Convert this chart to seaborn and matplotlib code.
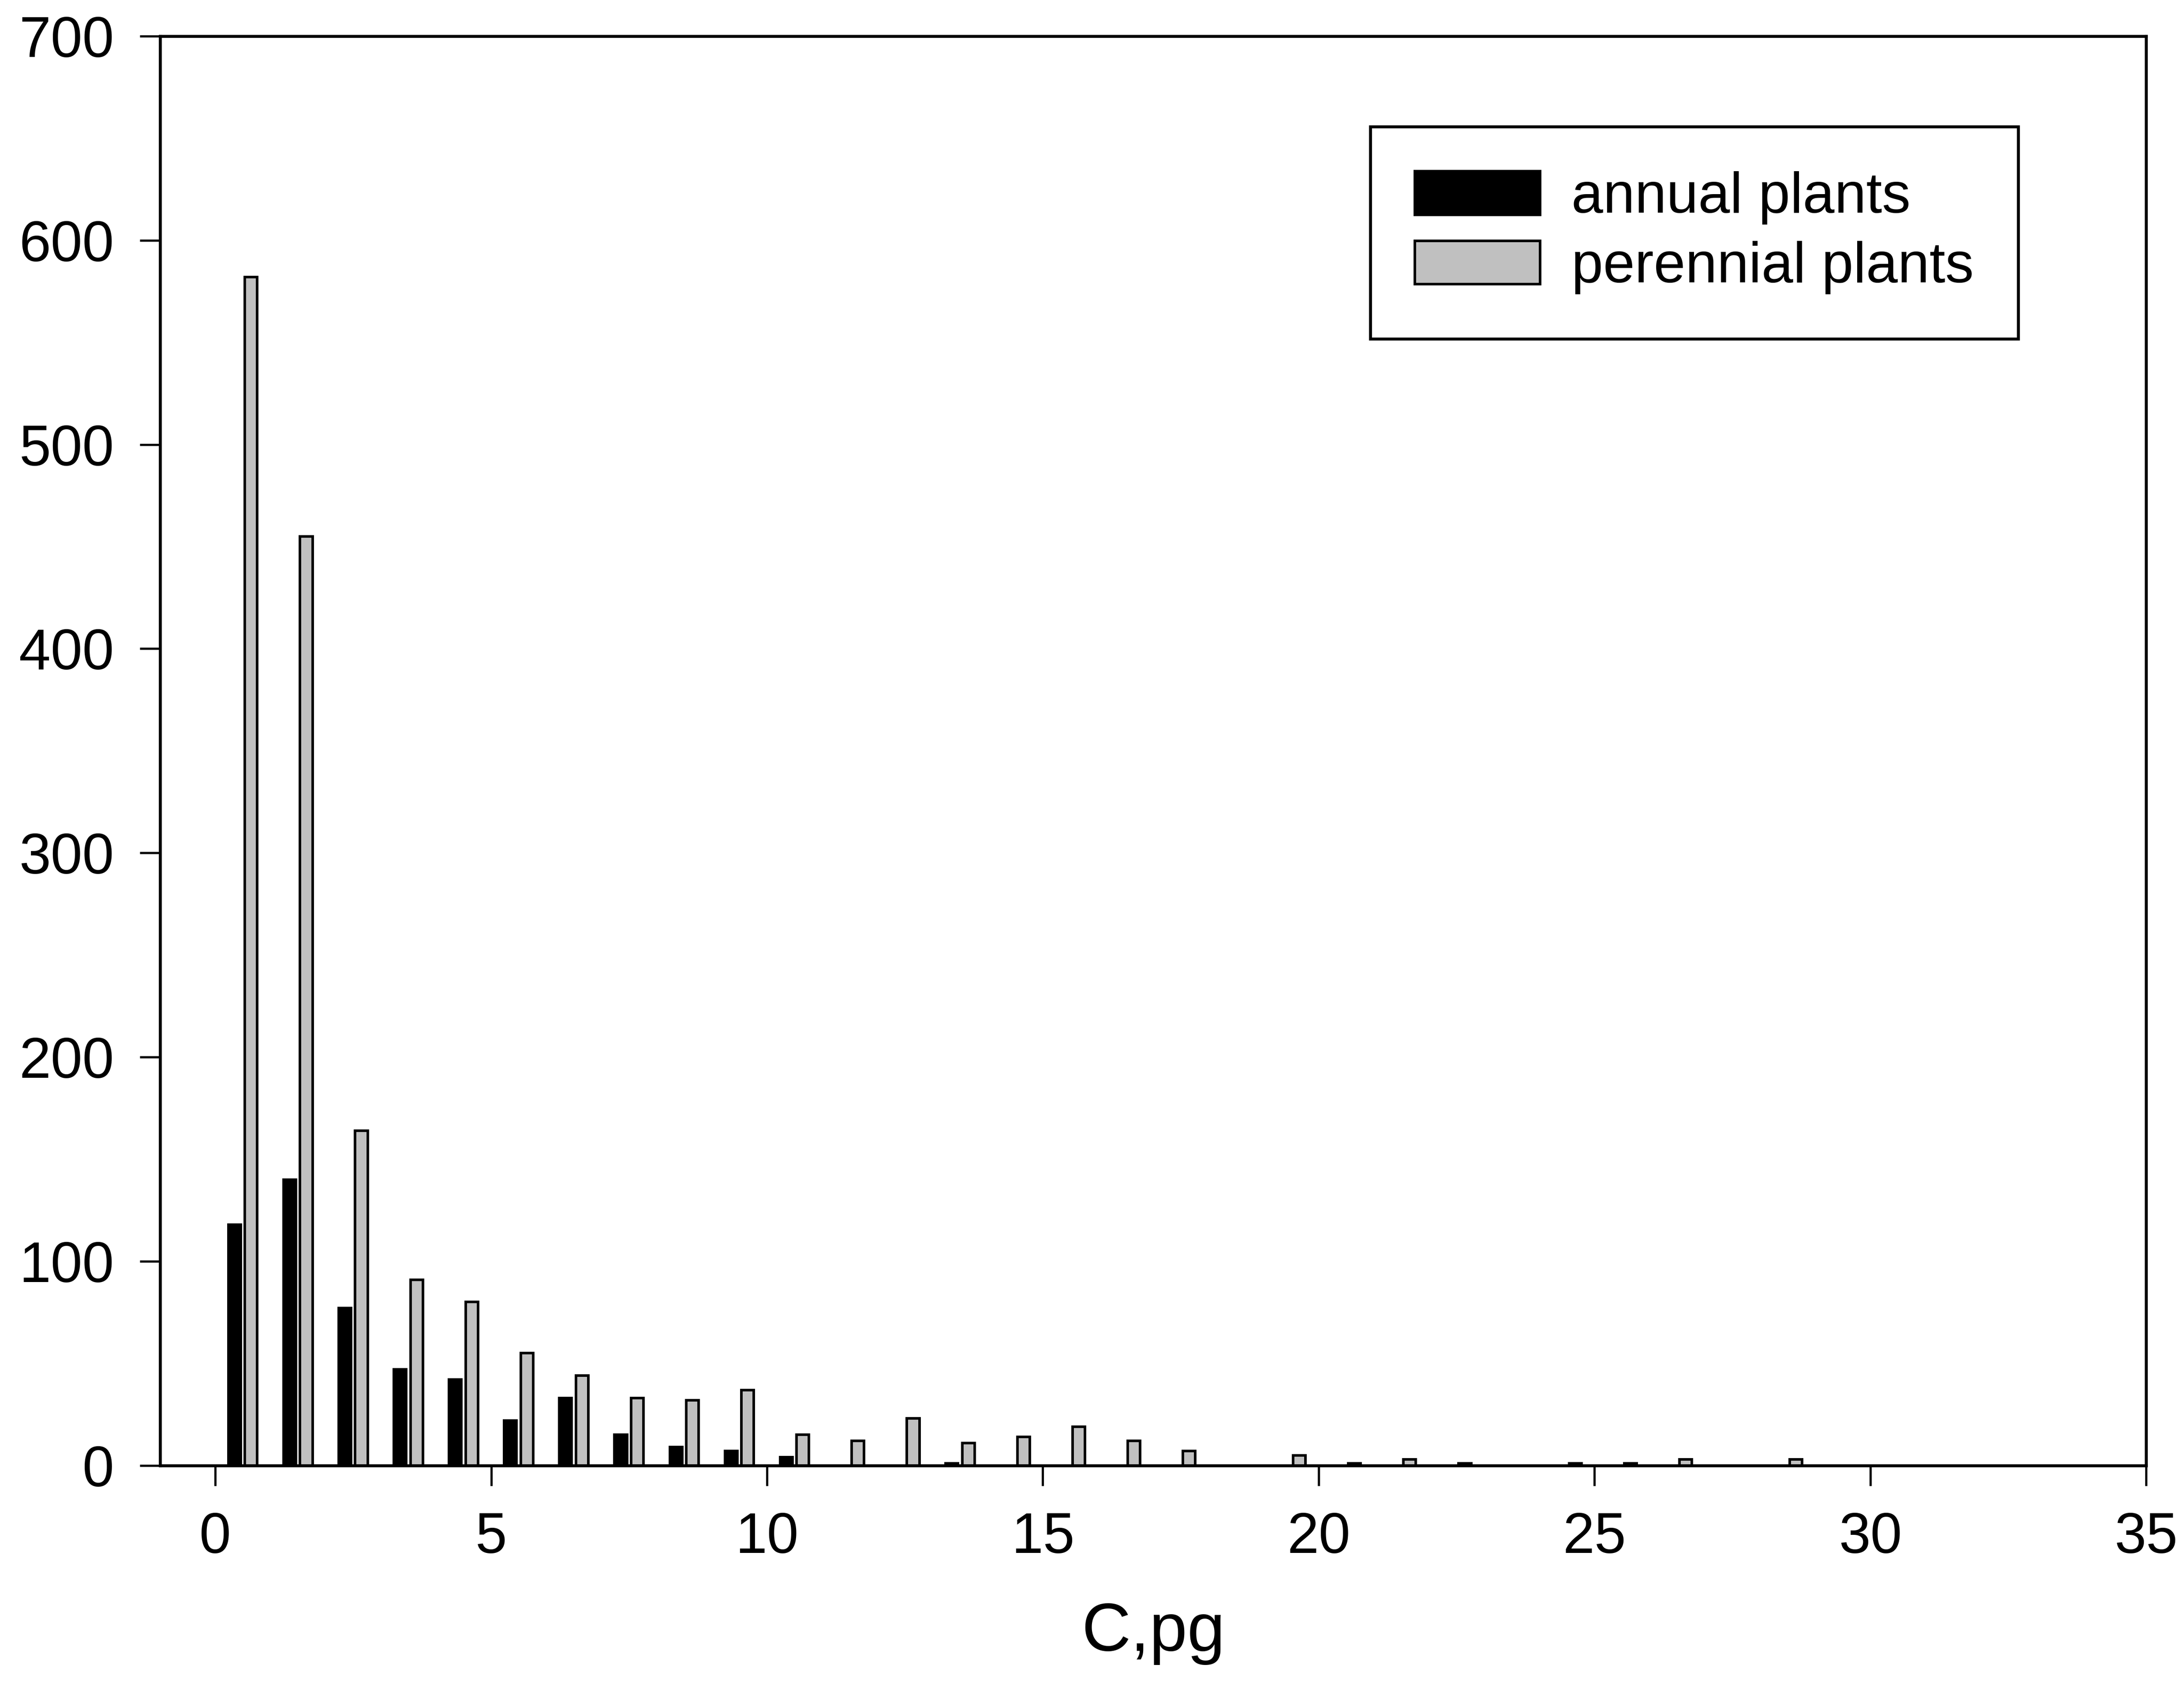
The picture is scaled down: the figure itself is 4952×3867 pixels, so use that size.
import numpy as np
import pandas as pd
import matplotlib
matplotlib.use("Agg")
import matplotlib.pyplot as plt
import seaborn as sns

# ---- data ----
bin_starts = list(range(29))  # C,pg bins [i, i+1)
annual = [118, 140, 77, 47, 42, 22, 33, 15, 9, 7, 4, 0, 0, 1, 0,
          0, 0, 0, 0, 0, 0, 0, 0, 0, 0, 0, 0, 0, 0]
perennial = [582, 455, 164, 91, 80, 55, 44, 33, 32, 37, 15, 12, 23, 11, 14,
             19, 12, 7, 0, 5, 1, 3, 1, 0, 1, 1, 3, 0, 3]
series_names = ["annual plants", "perennial plants"]
series_colors = ["#000000", "#c0c0c0"]
xticks = [0, 5, 10, 15, 20, 25, 30, 35]
yticks = [0, 100, 200, 300, 400, 500, 600, 700]
x_label = "C,pg"

# ---- style ----
sns.set_style("ticks")
plt.rcParams["font.family"] = ["Liberation Sans", "DejaVu Sans"]
plt.rcParams["text.color"] = "black"
plt.rcParams["axes.labelcolor"] = "black"
plt.rcParams["xtick.color"] = "black"
plt.rcParams["ytick.color"] = "black"

rows = []
for b, a, p in zip(bin_starts, annual, perennial):
    rows.append((b + 0.5, a, series_names[0]))
    rows.append((b + 0.5, p, series_names[1]))
df = pd.DataFrame(rows, columns=["C", "count", "type"])
df = df[df["count"] > 0]

fig = plt.figure(figsize=(4952 / 300, 3867 / 300), dpi=300)
ax = fig.add_axes([0.0733, 0.141, 0.9094, 0.8378])

sns.barplot(data=df, x="C", y="count", hue="type", hue_order=series_names,
            native_scale=True, palette=dict(zip(series_names, series_colors)),
            width=0.6, gap=0.25, edgecolor="black", linewidth=1.4,
            saturation=1, errorbar=None, ax=ax)

ax.set_xlim(-1, 35)
ax.set_ylim(0, 700)
ax.set_xticks(xticks)
ax.set_yticks(yticks)
ax.set_xlabel(x_label, fontsize=37, labelpad=20, color="black")
ax.set_ylabel("")
ax.tick_params(direction="out", length=11, width=1.2, labelsize=31,
               pad=14, colors="black")
for s in ax.spines.values():
    s.set_visible(True)
    s.set_linewidth(1.6)
    s.set_color("black")

handles, labels = ax.get_legend_handles_labels()
if ax.get_legend() is not None:
    ax.get_legend().remove()
leg = ax.legend(handles, labels, loc="upper right",
                bbox_to_anchor=(0.9355, 0.9366), fontsize=31,
                frameon=True, fancybox=False, shadow=False, framealpha=1,
                edgecolor="black", handlelength=2.2, handleheight=0.8,
                handletextpad=0.55, labelspacing=0.28, borderpad=0.78,
                borderaxespad=0)
leg.get_frame().set_linewidth(1.6)

fig.savefig("out.png", dpi=300, facecolor="white")
